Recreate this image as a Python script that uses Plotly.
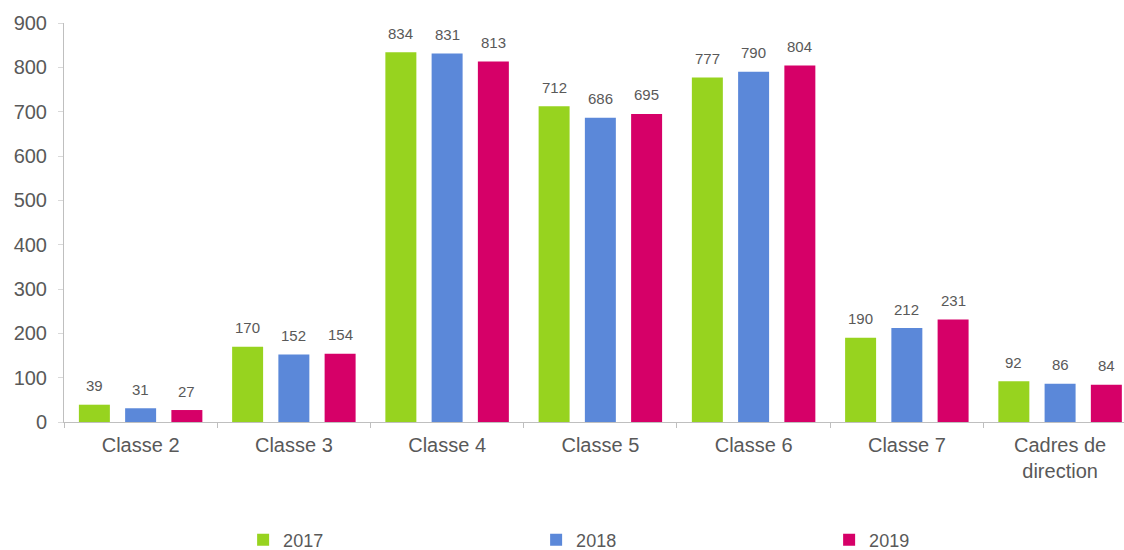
import plotly.graph_objects as go

categories = ["Classe 2", "Classe 3", "Classe 4", "Classe 5", "Classe 6", "Classe 7", "Cadres de<br>direction"]
v2017 = [39, 170, 834, 712, 777, 190, 92]
v2018 = [31, 152, 831, 686, 790, 212, 86]
v2019 = [27, 154, 813, 695, 804, 231, 84]
series = [("2017", v2017, "#97d31f"), ("2018", v2018, "#5b88d9"), ("2019", v2019, "#d60068")]

W, H = 1124, 550
ML, MR, MT, MB = 64, 0, 23, 128
XRANGE = [-0.5, 6.417]
BARGAP, BARGROUPGAP = 0.0946, 0.33
FONT = "Liberation Sans, Arial"
GREY = "#595959"

fig = go.Figure()
for name, vals, col in series:
    fig.add_trace(go.Bar(
        x=categories, y=vals, name=name, marker=dict(color=col, line=dict(width=0)),
    ))

# value labels placed above each bar, in data coordinates
plot_w = W - ML - MR
cat_w = plot_w / (XRANGE[1] - XRANGE[0])
slot = cat_w * (1 - BARGAP) / len(series)
for i, (name, vals, col) in enumerate(series):
    for c, v in zip(categories, vals):
        fig.add_annotation(
            x=c, y=v, text=str(v), showarrow=False,
            xshift=(i - (len(series) - 1) / 2) * slot, yshift=19, yanchor="middle",
            font=dict(size=15, color=GREY, family=FONT),
        )

fig.update_layout(
    width=W, height=H,
    margin=dict(l=ML, r=MR, t=MT, b=MB, autoexpand=False),
    plot_bgcolor="white", paper_bgcolor="white",
    barmode="group", bargap=BARGAP, bargroupgap=BARGROUPGAP,
    font=dict(family=FONT, color=GREY, size=20),
    legend=dict(orientation="h", xref="container", x=0.2163, xanchor="left",
                yref="container", y=0.018, yanchor="middle",
                entrywidth=248, entrywidthmode="pixels",
                font=dict(size=18, color=GREY, family=FONT)),
    showlegend=True,
)
fig.update_yaxes(range=[0, 900], dtick=100, showgrid=False, showline=True, linecolor="#bfbfbf",
                 ticks="outside", ticklen=5, tickcolor="#d9d9d9", ticklabelstandoff=7,
                 tickfont=dict(size=20, color=GREY), zeroline=False)
fig.update_xaxes(range=XRANGE, showline=True, linecolor="#bfbfbf", ticks="outside", tickson="boundaries",
                 ticklen=5, tickcolor="#bfbfbf", ticklabelstandoff=5,
                 tickfont=dict(size=20, color=GREY))

fig.write_html("out.html", config={"displayModeBar": False},
               post_script="document.body.style.margin='0';document.body.style.overflow='hidden';")
